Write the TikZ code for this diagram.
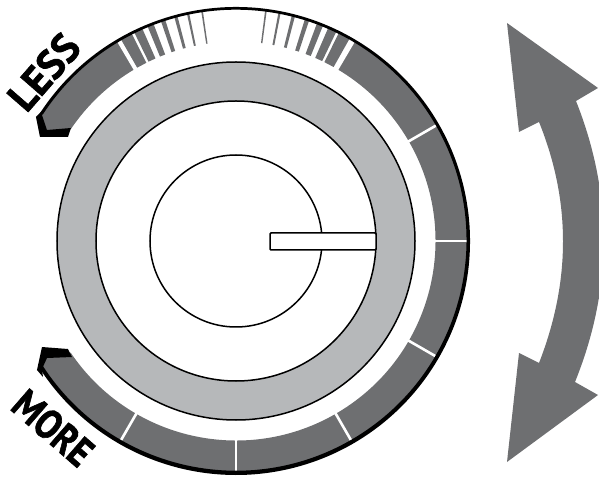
\documentclass[tikz,border=0pt]{standalone}
\usepackage{fontspec}
\setmainfont{PT Sans}[BoldFeatures={FakeBold=1.6}]
\definecolor{banddark}{HTML}{6E6F71}
\definecolor{ringgray}{HTML}{B6B8BA}

\begin{document}
\begin{tikzpicture}[
  x=1pt, y=1pt,
  band/.style  ={fill=banddark, draw=none},
  stripe/.style={fill=banddark, draw=none},
  notch/.style ={white, line width=2.6pt},
  rim/.style   ={fill=black, draw=none},
  thin/.style  ={draw=black, line width=1.5pt},
  word/.style  ={font=\bfseries\fontsize{41}{41}\selectfont, inner sep=0pt, text=black}
]
\useasboundingbox (-236,-240) rectangle (363,241);

% ---------- Dial ----------
\fill[ringgray] (0,0) circle[radius=179];
\draw[thin]     (0,0) circle[radius=179];
\draw[thin, fill=white] (0,0) circle[radius=140];
\draw[thin]     (0,0) circle[radius=86];
\draw[thin, fill=white, rounded corners=1pt] (34,8) rectangle (140,-9);

% ---------- Scale band ----------
\fill[band] (-146:199.5) arc[start angle=-146, end angle=59.5, radius=199.5]
  -- (59.5:232) arc[start angle=59.5, end angle=-147, radius=232]
  -- (-199,-129) -- (-189,-117) -- cycle;
\fill[band] (146:199.5) arc[start angle=146, end angle=120.5, radius=199.5]
  -- (120.5:232) arc[start angle=120.5, end angle=147, radius=232]
  -- (-200,124) -- (-189,111) -- cycle;

% ---------- Fading stripes ----------
\foreach \ang/\wid in {98.4/0.4, 101.9/0.55, 105/0.8, 108.3/1.1, 111.6/1.6, 114.9/2.2, 118.2/3,
                       82.6/0.4, 79.2/0.55, 75.7/0.8, 72.2/1.1, 68.8/1.6, 65.5/2.2, 62.2/3} {
  \fill[stripe] (\ang-\wid/2:199.5) -- (\ang+\wid/2:199.5) -- (\ang+\wid/2:232) -- (\ang-\wid/2:232) -- cycle;
}

% ---------- Notches ----------
\foreach \ang in {120.5, 59.5, 30, 0, -30, -60, -90, -120} {
  \draw[notch] (\ang:196) -- (\ang:231);
}

% ---------- Rim and its two hooked ends ----------
\fill[rim] (147:234) arc[start angle=147, end angle=-147, radius=234]
  -- ([shift={(0,0.8)}]-147:230.5) arc[start angle=-147, end angle=147, radius=230.5] -- cycle;
\fill[rim] (-193,131) -- (-200,124) -- (-196,104) -- (-168,104) -- (-165,113)
  -- (-189,111) -- (-194,126) -- cycle;
\fill[rim] (-193,-136) -- (-199,-129) -- (-194,-106) -- (-168,-108) -- (-164,-116)
  -- (-189,-117) -- (-194,-128) -- cycle;

% ---------- Labels ----------
\node[word, rotate=49]  (less) at (-192,169)  {LESS};
\node[word, rotate=-41] (more) at (-183,-187) {\scalebox{0.86}[1]{MORE}};

% ---------- Double arrow ----------
\fill[banddark] (271,218) -- (362,153) -- (340,140)
  .. controls (377,47) and (377,-47) .. (339,-141)
  -- (362,-154) -- (271,-221) -- (283,-112) -- (303,-122)
  .. controls (335,-40) and (335,40) .. (303,119)
  -- (283,109) -- cycle;
\end{tikzpicture}
\end{document}
